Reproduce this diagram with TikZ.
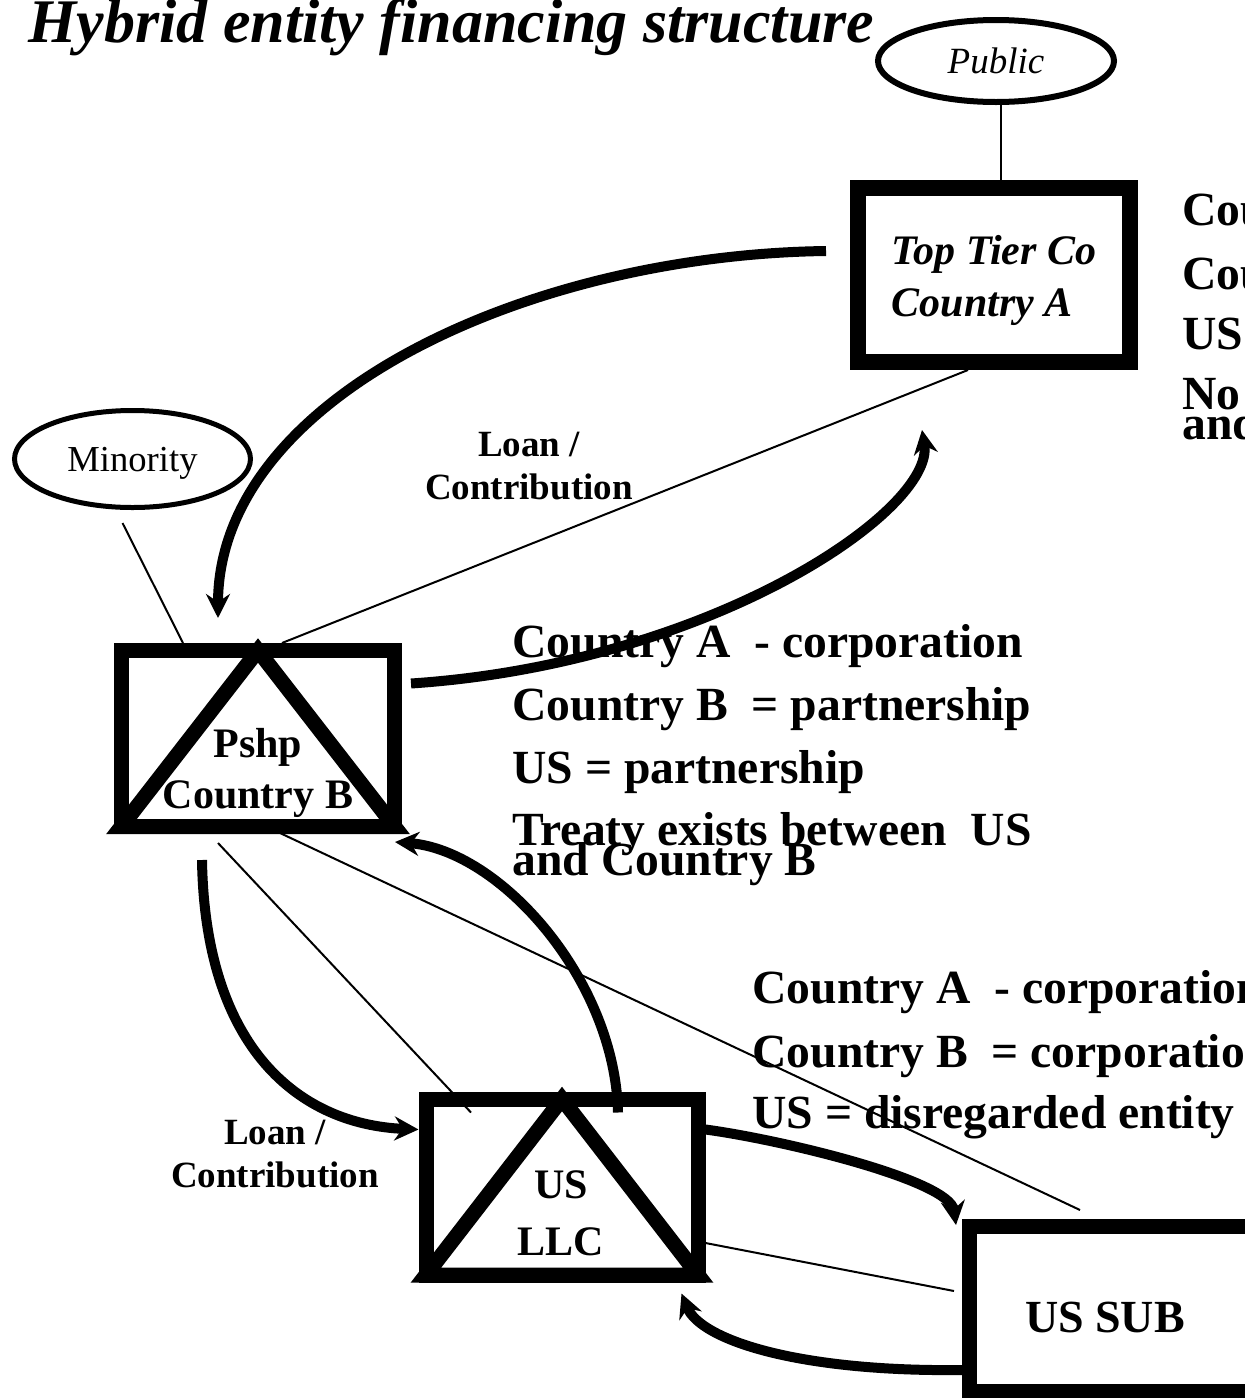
\documentclass[tikz,border=0pt]{standalone}
\usepackage{fontspec}
\setmainfont{Liberation Serif}
\usetikzlibrary{shapes.geometric,arrows.meta,calc}

\tikzset{
  entity/.style={draw,line width=7.5pt,inner sep=0pt,minimum width=136pt,minimum height=88pt},
  holder/.style={draw,ellipse,inner sep=0pt},
  own/.style={line width=1pt},
  flow/.style={line width=5pt,-{Stealth[length=12pt,width=12pt,inset=4pt]}},
  note/.style={anchor=base west,inner sep=0pt,font=\fontsize{23.8}{28}\selectfont\bfseries},
  boxtext/.style={align=center,inner sep=0pt,font=\fontsize{21}{25.5}\selectfont\bfseries},
  loan/.style={align=center,inner sep=0pt,font=\fontsize{18.5}{21.5}\selectfont\bfseries}
}

\begin{document}
\begin{tikzpicture}[x=0.5pt,y=-0.5pt]
\useasboundingbox (0,0) rectangle (1245,1398);

\node[anchor=base west,inner sep=0pt,font=\fontsize{31}{36}\selectfont\bfseries\itshape] (title) at (28,42) {Hybrid entity financing structure};

% owners
\node[holder,line width=3pt,minimum width=118pt,minimum height=41pt,font=\fontsize{18.5}{22}\selectfont\itshape] (public) at (996,61) {Public};
\node[holder,line width=2.5pt,minimum width=118pt,minimum height=48.5pt,text depth=0pt,font=\fontsize{18.3}{22}\selectfont] (minority) at (132.5,459) {Minority};

% entities
\node[entity,line width=8pt,minimum height=87pt] (toptier) at (994,275) {};
\node[entity,minimum width=136.5pt] (pshp) at (258,738.5) {};
\node[entity] (usllc) at (562,1187) {};
\node[entity,minimum width=142.5pt,minimum height=82.5pt] (ussub) at (1112,1309) {};

% triangles for the hybrids
\draw[line width=7.5pt] ($(pshp.north)+(0,7.5)$) -- ($(pshp.south west)+(7.5,-7.5)$) -- ($(pshp.south east)+(-7.5,-7.5)$) -- cycle;
\draw[line width=7.5pt] ($(usllc.north)+(0,7.5)$) -- ($(usllc.south west)+(7.5,-7.5)$) -- ($(usllc.south east)+(-7.5,-7.5)$) -- cycle;

\node[align=left,inner sep=0pt,font=\fontsize{21}{26}\selectfont\bfseries\itshape] (toptext) at ($(toptier)+(0,5)$) {Top Tier Co\\Country A};
\node[boxtext] (pshptext) at ($(pshp)+(0,34)$) {Pshp\\Country B};
\node[boxtext,font=\fontsize{21}{28.5}\selectfont\bfseries] (usllctext) at ($(usllc)+(-1,26)$) {US\\LLC};
\node[inner sep=0pt,font=\fontsize{23}{28}\selectfont\bfseries] (ussubtext) at ($(ussub)+(-7,8)$) {US SUB};

% ownership lines
\draw[own] ($(public.south)+(5,0)$) -- ($(toptier.north)+(7,0)$);
\draw[own] ($(minority.south)+(-10,13)$) -- ($(pshp.north west)+(69,0)$);
\draw[own] ($(toptier.south)+(-26,0)$) -- ($(pshp.north)+(24,0)$);
\draw[own] ($(pshp.south)+(-40,9)$) -- ($(usllc.north)+(-91,21)$);
\draw[own] ($(pshp.south)+(22,-1)$) -- ($(ussub.north west)+(118,-9)$);
\draw[own] ($(usllc.east)+(0,56)$) -- ($(ussub.north west)+(-8,72)$);

% loans and contributions
\draw[flow] ($(toptier.west)+(-24,-24)$) .. controls +(-300,4) and +(0,-220) .. ($(pshp.north)+(-40,-25)$);
\draw[flow] ($(pshp.east)+(9,-55)$) .. controls +(300,-20) and +(13,80) .. ($(toptier.south)+(-72,60)$);
\draw[flow] ($(pshp.south)+(-56,26)$) .. controls +(3,190) and +(-118,-5) .. ($(usllc.north west)+(0,38)$);
\draw[flow] ($(usllc.north)+(56,21)$) .. controls +(-3,-133) and +(105,8) .. ($(pshp.south east)+(-7,8)$);
\draw[flow] ($(usllc.north east)+(0,38)$) .. controls +(75,10) and +(-6,-45) .. ($(ussub.north west)+(-6,6)$);
\draw[flow] ($(ussub.south west)+(0,-29)$) .. controls +(-162,2) and +(19,47) .. ($(usllc.south east)+(-24,11)$);

\node[loan] (loanup) at (529,466) {Loan /\\Contribution};
\node[loan] (loandown) at (275,1154) {Loan /\\Contribution};

% classification notes
\node[note] (topA) at (1182,225) {Cou};
\node[note] (topB) at (1182,289) {Cou};
\node[note] (topUS) at (1182,349) {US};
\node[note] (topNo) at (1182,409) {No};
\node[note] (topAnd) at (1182,439) {and};

\node[note] (pshpA) at (512,657) {Country A\ \ - corporation};
\node[note] (pshpB) at (512,720) {Country B\ \ = partnership};
\node[note] (pshpUS) at (512,783) {US = partnership};
\node[note] (pshpTreaty) at (512,845) {Treaty exists between\ \ US};
\node[note] (pshpAnd) at (512,875) {and Country B};

\node[note] (subA) at (752,1003) {Country A\ \ - corporation};
\node[note] (subB) at (752,1067) {Country B\ \ = corporation};
\node[note] (subUS) at (752,1128) {US = disregarded entity};
\end{tikzpicture}
\end{document}
